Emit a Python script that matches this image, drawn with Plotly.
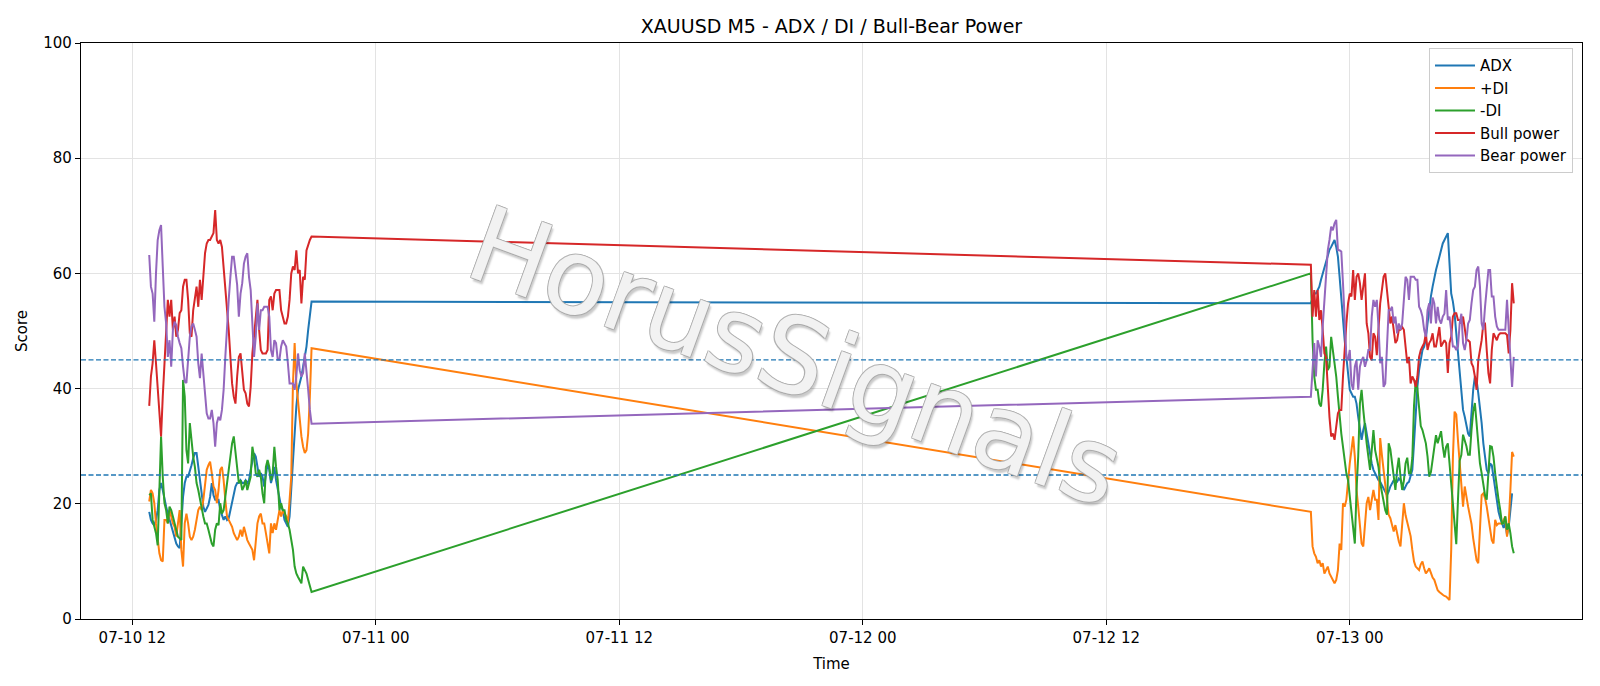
import pandas as pd
import plotly.graph_objects as go

# ---- time axis (two M5 sessions) ----
session1_start, session1_len = "2020-07-10 12:50", 97
session2_start, session2_len = "2020-07-12 22:05", 121

# ---- series values: session 1 ----
adx_s1 = [18.6, 17.2, 16.6, 16.3, 17.2, 18.9, 22.4, 23.6, 22.4, 20.7, 19.5, 18.3, 17.2, 16.6, 15.5, 14.0, 13.1, 12.6, 12.3, 16.6,
          21.2, 23.6, 24.7, 24.7, 25.6, 26.7, 27.9, 28.8, 28.8, 26.4, 24.1, 21.8, 19.5, 18.6,
          19.2, 19.8, 21.2, 23.6, 21.5, 20.7, 20.7, 20.7, 18.9, 17.8, 17.2, 17.8, 17.2, 17.5, 18.9, 20.7,
          21.8, 23.0, 23.6, 23.6, 24.1, 23.6, 23.6, 24.1, 23.6, 24.1, 25.9, 27.6, 28.8, 28.2, 26.4, 24.7,
          25.3, 24.7, 23.0, 24.7, 27.0, 25.9, 23.6, 24.7, 26.4, 24.1, 22.4, 20.7, 19.5, 18.9, 17.2, 16.6,
          16.0, 17.8, 22.4, 28.2, 32.8, 36.9, 39.8, 40.9, 42.1, 43.8, 45.5, 47.3, 50.2, 53.0, 55.1]
pdi_s1 = [20.4, 22.4, 21.8, 20.1, 16.6, 13.7, 11.4, 10.2, 10.0, 17.2, 17.2, 16.6, 18.9, 17.8, 16.6, 16.0, 14.3, 16.6, 18.9, 12.0,
          9.1, 16.6, 18.3, 16.6, 14.3, 13.7, 14.3, 15.5, 17.2, 18.9, 19.5, 18.9, 20.7, 23.6,
          25.9, 26.7, 27.3, 25.3, 23.0, 22.4, 20.1, 22.4, 25.9, 26.4, 24.1, 20.7, 17.8, 17.2, 16.6, 16.0,
          14.9, 14.3, 13.7, 14.3, 15.5, 14.3, 16.0, 14.9, 13.7, 13.1, 12.6, 12.0, 10.2, 13.1, 16.6, 17.8,
          18.3, 16.6, 16.6, 14.9, 13.1, 11.4, 16.6, 14.9, 16.6, 15.5, 17.2, 18.9, 17.8, 18.9, 18.3, 17.8,
          16.6, 21.2, 24.7, 40.9, 47.9, 40.9, 37.4, 34.0, 31.7, 29.9, 28.8, 29.3, 32.2, 38.6, 47.0]
mdi_s1 = [21.5, 21.8, 17.2, 16.0, 14.9, 12.8, 22.4, 31.7, 24.7, 20.1, 18.9, 16.6, 19.5, 18.9, 17.8, 16.6, 15.5, 14.3, 14.0, 13.7,
          41.5, 38.6, 29.3, 27.0, 34.0, 30.5, 28.2, 26.4, 23.6, 22.4, 20.7, 19.5, 17.8, 16.6,
          16.6, 15.5, 14.3, 13.1, 12.6, 15.5, 16.6, 16.3, 20.1, 18.3, 18.9, 21.2, 23.6, 25.9, 28.2, 30.5,
          31.7, 29.3, 26.4, 23.6, 24.1, 22.4, 23.0, 24.1, 22.4, 23.6, 24.7, 29.9, 28.2, 25.3, 24.7, 25.9,
          24.7, 21.8, 20.1, 26.4, 27.6, 26.4, 24.1, 25.3, 29.9, 26.4, 24.1, 18.9, 20.1, 18.9, 18.9, 17.2,
          16.6, 15.5, 13.7, 12.0, 9.1, 7.9, 7.3, 6.8, 6.2, 9.1, 8.5, 7.9, 6.8, 5.6, 4.7]
bull_s1 = [37.0, 42.1, 44.4, 48.4, 44.4, 39.8, 35.1, 31.7, 38.6, 44.4, 47.9, 55.4, 52.5, 55.4, 50.2, 52.5, 49.0, 50.2, 53.1, 53.6,
           57.7, 58.9, 58.9, 55.4, 49.6, 49.0, 53.6, 55.4, 57.7, 54.2, 58.9, 55.4, 58.9, 63.5,
           65.2, 65.8, 65.8, 66.4, 67.0, 71.0, 65.8, 65.2, 65.8, 64.6, 60.9, 58.3, 54.8, 50.2, 45.5, 40.9,
           38.6, 37.4, 42.1, 45.5, 46.1, 42.4, 39.8, 39.2, 37.4, 36.9, 40.3, 46.1, 49.6, 53.1, 55.4, 50.2,
           46.7, 46.1, 46.1, 46.1, 46.7, 55.4, 56.0, 53.6, 56.5, 57.1, 57.1, 57.1, 53.6, 52.5, 51.3, 51.3,
           52.5, 55.4, 60.0, 61.2, 60.6, 64.0, 60.0, 60.6, 54.8, 59.4, 58.9, 64.0, 65.0, 65.8, 66.4]
bear_s1 = [63.2, 57.7, 56.5, 51.6, 60.0, 65.8, 67.5, 68.4, 61.2, 54.2, 51.3, 45.5, 48.4, 43.8, 50.2, 51.6, 51.0, 49.0, 47.9, 47.0,
           43.8, 41.2, 41.0, 45.0, 49.0, 50.8, 51.3, 50.2, 49.0, 44.4, 41.8, 46.1, 42.1, 39.8,
           35.7, 34.8, 34.8, 36.3, 34.0, 29.9, 34.0, 35.1, 34.5, 36.3, 39.8, 45.5, 51.3, 55.4, 59.4, 62.9,
           62.9, 60.6, 58.0, 52.5, 56.5, 58.3, 61.7, 62.9, 63.5, 59.4, 57.1, 51.3, 45.5, 49.0, 54.8, 50.2,
           53.6, 53.6, 54.2, 54.2, 54.2, 52.5, 46.7, 45.5, 48.4, 47.9, 45.0, 45.0, 47.3, 48.4, 47.9, 47.3,
           44.4, 40.9, 40.9, 40.9, 39.8, 42.1, 46.1, 43.2, 42.1, 42.7, 46.1, 42.1, 39.8, 36.3, 33.9]

# ---- series values: session 2 ----
adx_s2 = [54.8, 55.9, 56.5, 56.5, 57.1, 57.7, 58.9, 60.0, 61.2, 62.3, 63.5, 64.1, 64.6, 65.2, 65.8, 64.6, 62.9, 59.4, 55.4, 51.3,
          48.4, 45.5, 42.1, 39.8, 39.2, 38.6, 38.6, 37.4, 35.1, 32.8, 31.1, 32.8, 34.0, 32.2, 30.5, 28.2, 27.0, 25.9, 25.3,
          24.7, 24.1, 23.8, 23.3, 22.7, 22.1, 21.5, 22.1, 23.0, 23.6, 24.1, 23.6, 23.8, 24.4, 24.1, 23.3, 22.4, 23.0, 23.6, 23.8,
          24.7, 25.9, 30.5, 36.0, 40.3, 43.2, 45.0, 46.7, 47.3, 48.7, 51.3, 54.2, 56.0, 57.7,
          59.4, 60.6, 61.7, 62.9, 64.1, 65.2, 65.8, 66.4, 67.0, 61.7, 56.5, 55.1, 53.0, 49.6, 46.1, 42.1, 38.6, 36.3, 35.1, 33.4,
          32.2, 31.7, 36.3, 39.8, 42.1, 41.5, 39.2, 36.9, 34.0, 30.5, 27.6, 25.9, 25.3, 27.0, 26.7, 24.7, 22.4, 20.4, 18.6, 17.5,
          16.6, 15.8, 16.6, 14.6, 16.0, 18.9, 21.8]
pdi_s2 = [18.6, 12.6, 11.4, 10.8, 9.7, 10.2, 9.1, 9.7, 7.9, 8.5, 9.1, 7.9, 7.3, 6.8, 6.2, 6.8, 8.5, 13.1, 12.0, 20.1,
          19.5, 20.7, 24.1, 27.0, 29.3, 31.7, 28.2, 22.4, 19.5, 16.6, 13.1, 12.6, 16.0, 20.1, 21.2, 18.9, 20.7, 22.4, 20.7,
          20.7, 17.2, 31.4, 28.5, 25.9, 23.5, 21.2, 18.1, 17.5, 16.3, 15.2, 16.3, 14.6, 13.5, 12.6, 17.0, 20.1, 18.0, 16.6, 15.5,
          14.4, 12.0, 10.0, 9.1, 8.8, 8.5, 9.5, 10.0, 8.8, 7.9, 8.3, 8.8, 8.0, 7.2, 6.8, 5.8, 5.0, 4.7, 4.4, 4.2,
          4.0, 3.9, 3.6, 3.3,
          12.0, 28.0, 36.0, 35.5, 31.0, 27.0, 24.1, 19.5, 23.0, 21.0, 19.5, 18.0, 16.5, 14.0, 12.0, 10.2, 9.7, 16.0, 21.5, 21.8,
          21.0, 19.5, 17.8, 15.5, 13.7, 13.1, 17.2, 16.3, 16.6, 16.6, 16.6, 17.2, 17.8, 14.3, 16.6, 22.4, 29.0, 28.2]
mdi_s2 = [60.0, 48.4, 42.1, 39.8, 39.8, 37.4, 36.9, 39.8, 44.4, 47.3, 43.2, 43.8, 49.0, 46.7, 44.4, 42.1, 38.6, 35.1, 32.2, 29.9,
          27.0, 25.3, 24.1, 21.2, 17.8, 14.9, 13.1, 22.4, 28.2, 37.4, 39.8, 36.3, 32.8, 30.5, 28.2, 25.9, 29.3, 32.8, 29.3,
          27.6, 26.4, 23.6, 21.8, 20.7, 18.9, 18.1, 30.5, 29.5, 27.0, 25.3, 22.4, 25.9, 28.0, 24.7, 22.4, 24.0, 27.0, 28.0, 25.3,
          25.3, 28.0, 37.0, 41.4, 40.0, 36.0, 33.5, 32.8, 31.7, 30.5, 28.2, 24.7, 25.5, 28.0, 30.0, 31.9, 30.5, 31.5, 32.6, 30.0,
          28.0,
          29.9, 30.5, 27.0, 23.5, 20.0, 15.0, 13.0, 20.7, 27.5, 28.5, 32.0, 31.0, 30.0, 28.5, 28.5, 32.8, 36.0, 37.5, 34.0, 30.0,
          27.0, 25.3, 23.0, 21.5, 20.7, 25.0, 30.0, 29.9, 28.2, 25.3, 22.4, 20.7, 18.9, 16.6, 16.6, 17.8, 15.5, 16.6, 14.9, 12.6,
          11.4]
bull_s2 = [61.5, 52.5, 57.1, 52.5, 57.1, 51.9, 53.6, 50.2, 46.1, 45.5, 39.8, 35.1, 31.7, 32.2, 31.1, 34.0, 35.7, 36.3, 36.3, 42.1,
           47.9, 51.3, 54.8, 56.5, 56.0, 60.6, 55.4, 59.4, 60.0, 58.3, 55.4, 57.7, 60.0, 51.3, 49.6, 45.5, 44.9, 49.6, 49.0,
           45.8, 50.7, 54.8, 57.1, 59.4, 60.0, 57.1, 54.2, 51.3, 52.5, 49.6, 47.9, 48.4, 50.2, 50.2, 50.7, 50.2, 46.7, 44.4, 45.5,
           40.9, 42.1, 41.5, 40.3, 42.1, 45.5, 46.7, 47.3, 47.9, 49.6, 46.7, 47.9, 48.4, 49.6, 47.3, 47.3, 48.9, 50.7, 47.3, 47.9,
           48.4,
           47.9, 42.7, 47.9, 49.0, 52.5, 53.1, 53.1, 51.9, 51.9, 51.3, 52.5, 50.2, 48.4, 48.4, 48.1, 44.4, 43.8, 42.1, 39.8, 44.9,
           46.7, 48.4, 51.3, 51.3, 46.7, 42.7, 40.9, 46.7, 49.6, 49.0, 48.4, 49.3, 49.6, 49.6, 49.6, 49.6, 49.3, 46.1, 50.2, 58.3,
           54.8]
bear_s2 = [38.6, 44.4, 47.9, 42.1, 48.4, 47.3, 45.5, 50.8, 55.4, 60.0, 64.0, 65.8, 68.1, 67.5, 68.7, 69.3, 64.0, 64.0, 63.8, 58.3,
           51.3, 45.5, 44.9, 46.7, 40.9, 39.8, 43.8, 44.9, 39.8, 43.8, 44.9, 45.5, 43.8, 44.9, 46.7, 46.7, 52.5, 55.4, 54.2,
           55.4, 50.8, 44.4, 45.5, 40.3, 40.9, 49.0, 53.6, 53.6, 54.2, 51.3, 52.5, 49.6, 51.3, 50.2, 51.3, 55.4, 59.4, 58.9, 55.4,
           59.4, 59.4, 59.4, 58.9, 58.9, 54.2, 53.6, 52.5, 50.2, 49.0, 53.6, 54.8, 51.3, 55.8, 54.8, 51.3, 54.2, 52.0, 51.3, 52.5,
           53.0,
           57.1, 51.9, 52.5, 50.2, 47.3, 47.3, 46.7, 47.3, 51.3, 53.0, 47.9, 46.7, 48.4, 51.3, 51.9, 54.8, 57.1, 57.7, 60.6, 61.2,
           57.7, 51.3, 50.2, 54.2, 57.7, 60.6, 60.6, 56.0, 56.0, 52.5, 50.8, 50.2, 50.2, 50.2, 50.2, 50.2, 55.4, 50.2, 44.4, 40.3,
           45.5]

series_names = ["ADX", "+DI", "-DI", "Bull power", "Bear power"]
series_colors = ["#1f77b4", "#ff7f0e", "#2ca02c", "#d62728", "#9467bd"]
threshold_levels = [45, 25]
y_ticks = [0, 20, 40, 60, 80, 100]
x_range = ["2020-07-10 09:28:15", "2020-07-13 11:26:45"]

times = list(pd.date_range(session1_start, periods=session1_len, freq="5min")) + \
        list(pd.date_range(session2_start, periods=session2_len, freq="5min"))

all_series = [adx_s1 + adx_s2, pdi_s1 + pdi_s2, mdi_s1 + mdi_s2, bull_s1 + bull_s2, bear_s1 + bear_s2]

FONT = "DejaVu Sans"
fig = go.Figure()
for name, color, vals in zip(series_names, series_colors, all_series):
    fig.add_trace(go.Scatter(x=times, y=vals, mode="lines", name=name,
                             line=dict(color=color, width=2)))

for lvl in threshold_levels:
    fig.add_shape(type="line", xref="paper", x0=0, x1=1, yref="y", y0=lvl, y1=lvl,
                  line=dict(color="#1f77b4", width=1.3, dash="5px,2.5px"), layer="above")

fig.add_annotation(text="HorusSignals", xref="paper", yref="paper", x=0.476, y=0.455,
                   showarrow=False, textangle=20,
                   font=dict(family=FONT, size=105, color="rgba(255,255,255,0.85)",
                             shadow="0.8px 0.8px 0 #a8a8a8, -0.8px -0.8px 0 #a8a8a8, 0.8px -0.8px 0 #a8a8a8, -0.8px 0.8px 0 #a8a8a8, 3px 3px 2px rgba(0,0,0,0.25)"))

fig.update_layout(
    width=1600, height=686,
    margin=dict(l=81, r=18, t=43, b=67),
    paper_bgcolor="white", plot_bgcolor="white",
    font=dict(family=FONT, size=15, color="black"),
    title=dict(text="XAUUSD M5 - ADX / DI / Bull-Bear Power", x=0.5, xref="paper",
               y=1 - 26 / 686, yref="container", xanchor="center", yanchor="middle",
               font=dict(family=FONT, size=19, color="black")),
    legend=dict(x=0.994, y=0.991, xanchor="right", yanchor="top",
                bgcolor="rgba(255,255,255,0.85)", bordercolor="#cccccc", borderwidth=1,
                font=dict(family=FONT, size=15), tracegroupgap=0, itemwidth=40),
    showlegend=True,
)
fig.update_xaxes(range=x_range, type="date", tickformat="%m-%d %H",
                 tick0="2020-07-10 00:00", dtick=12 * 3600 * 1000,
                 showline=True, linecolor="black", linewidth=1.2, mirror=True,
                 ticks="outside", ticklen=5, tickcolor="black",
                 showgrid=True, gridcolor="#e3e3e3", gridwidth=1,
                 title=dict(text="Time", font=dict(size=15), standoff=12),
                 tickfont=dict(size=15), zeroline=False)
fig.update_yaxes(range=[0, 100], tickvals=y_ticks,
                 showline=True, linecolor="black", linewidth=1.2, mirror=True,
                 ticks="outside", ticklen=5, tickcolor="black",
                 showgrid=True, gridcolor="#e3e3e3", gridwidth=1,
                 title=dict(text="Score", font=dict(size=15), standoff=12),
                 tickfont=dict(size=15), zeroline=False)

fig.write_html("out.html")
